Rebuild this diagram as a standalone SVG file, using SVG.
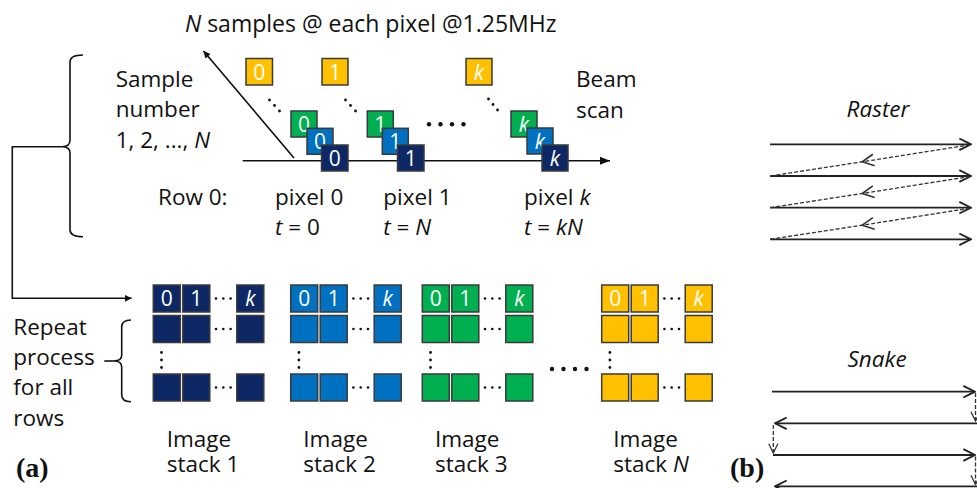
<svg xmlns="http://www.w3.org/2000/svg" width="977" height="488" viewBox="0 0 977 488">
<defs>
<style>
text{font-family:"Open Sans","Liberation Sans",sans-serif;font-size:22.5px;fill:#111}
.it{font-style:italic}
.bx{stroke:#3a3a3a;stroke-width:1.5}
.nv{fill:#0E2866}.bl{fill:#0070C0}.gr{fill:#00B050}.ye{fill:#FFC000}
.bt{fill:#fff;font-size:21px;text-anchor:middle}
.ln{fill:none;stroke:#111;stroke-width:1.6}
.sc{fill:none;stroke:#222;stroke-width:1.8}
.ds{fill:none;stroke:#333;stroke-width:1.3;stroke-dasharray:4 2}
.dot{fill:#111}
.lab{font-family:"Liberation Serif","Times New Roman",serif;font-weight:bold;font-size:28px}
</style>
<marker id="fa" viewBox="0 0 10 10" refX="10" refY="5" markerWidth="7" markerHeight="7" orient="auto" markerUnits="userSpaceOnUse"><path d="M0,0 L10,5 L0,10 z" fill="#111"/></marker>
<marker id="fb" viewBox="0 0 10 10" refX="10" refY="5" markerWidth="10" markerHeight="10" orient="auto" markerUnits="userSpaceOnUse"><path d="M0,1 L10,5 L0,9 z" fill="#111"/></marker>
<marker id="oa" viewBox="0 0 12 12" refX="11" refY="6" markerWidth="14" markerHeight="14" orient="auto" markerUnits="userSpaceOnUse"><path d="M1,1 L11,6 L1,11" fill="none" stroke="#222" stroke-width="1.6"/></marker>
<marker id="om" viewBox="0 0 12 12" refX="6" refY="6" markerWidth="14" markerHeight="14" orient="auto" markerUnits="userSpaceOnUse"><path d="M1,1 L11,6 L1,11" fill="none" stroke="#333" stroke-width="1.4"/></marker>
<marker id="od" viewBox="0 0 12 12" refX="11" refY="6" markerWidth="11" markerHeight="11" orient="auto" markerUnits="userSpaceOnUse"><path d="M1,1 L11,6 L1,11" fill="none" stroke="#333" stroke-width="1.4"/></marker>
</defs>
<rect width="977" height="488" fill="#fff"/>

<g id="connectors">
<path class="ln" d="M294,158 L203.5,51" marker-end="url(#fa)" stroke-width="1.2"/>
<path class="ln" d="M242.7,160.7 H610" marker-end="url(#fb)" stroke-width="2"/>
<path class="ln" d="M83,55 Q70,55 70,62 V140 Q70,146.7 62,146.7 Q70,146.7 70,153 V229.7 Q70,236.7 83,236.7" stroke-width="2"/>
<path class="ln" d="M62,146.7 H12.3 V298.3 H131.7" marker-end="url(#fa)" stroke-width="2"/>
<path class="ln" d="M131,320 Q121.7,320 121.7,327 V355 Q121.7,361 114,361 Q121.7,361 121.7,367 V394.7 Q121.7,401.7 131,401.7" stroke-width="1.8"/>
<path class="ln" d="M114,361 H104.3" stroke-width="1.8"/>
</g>

<g id="title"><text x="185" y="31.5" style="font-size:23px"><tspan class="it">N</tspan> samples @ each pixel @1.25MHz</text></g>

<g id="sample-label">
<text x="115.7" y="86.5">Sample</text>
<text x="115.7" y="116.5">number</text>
<text x="115.7" y="147.5">1, 2, ..., <tspan class="it">N</tspan></text>
</g>

<g id="pixel0">
<rect class="bx ye" x="246" y="58.5" width="26.5" height="26.5"/><text class="bt" x="259.2" y="79.5">0</text>
<circle class="dot" cx="269.5" cy="100" r="1.4"/><circle class="dot" cx="274.5" cy="105.5" r="1.4"/><circle class="dot" cx="279.5" cy="111" r="1.4"/>
<rect class="bx gr" x="291" y="111" width="26" height="26"/><text class="bt" x="304" y="131.5">0</text>
<rect class="bx bl" x="307" y="128.3" width="26" height="26"/><text class="bt" x="320" y="148.8">0</text>
<rect class="bx nv" x="321.5" y="145" width="26.5" height="26"/><text class="bt" x="334.7" y="165.5">0</text>
</g>

<g id="pixel1">
<rect class="bx ye" x="322" y="58.5" width="26" height="26.5"/><text class="bt" x="335" y="79.5">1</text>
<circle class="dot" cx="345.5" cy="100" r="1.4"/><circle class="dot" cx="350.5" cy="105.5" r="1.4"/><circle class="dot" cx="355.5" cy="111" r="1.4"/>
<rect class="bx gr" x="367.3" y="111" width="26" height="26"/><text class="bt" x="380.3" y="131.5">1</text>
<rect class="bx bl" x="382.3" y="128.3" width="26" height="26"/><text class="bt" x="395.3" y="148.8">1</text>
<rect class="bx nv" x="397.5" y="145" width="26.5" height="26"/><text class="bt" x="410.7" y="165.5">1</text>
</g>

<g id="mid-dots">
<circle class="dot" cx="429" cy="124.3" r="2.2"/><circle class="dot" cx="440.5" cy="124.3" r="2.2"/><circle class="dot" cx="452" cy="124.3" r="2.2"/><circle class="dot" cx="463.5" cy="124.3" r="2.2"/>
</g>

<g id="pixelk">
<rect class="bx ye" x="466" y="58.5" width="26" height="26.5"/><text class="bt it" x="479" y="79.5">k</text>
<circle class="dot" cx="488.5" cy="99" r="1.4"/><circle class="dot" cx="493" cy="104.5" r="1.4"/><circle class="dot" cx="497.5" cy="110" r="1.4"/>
<rect class="bx gr" x="511" y="111" width="26" height="26"/><text class="bt it" x="524" y="131.5">k</text>
<rect class="bx bl" x="527" y="128" width="26" height="26"/><text class="bt it" x="540" y="148.5">k</text>
<rect class="bx nv" x="542" y="145" width="26" height="26"/><text class="bt it" x="555" y="165.5">k</text>
</g>

<g id="beam-scan">
<text x="576" y="87">Beam</text>
<text x="576" y="118">scan</text>
</g>

<g id="row-labels">
<text x="158" y="205">Row 0:</text>
<text x="275" y="205">pixel 0</text>
<text x="275" y="235"><tspan class="it">t</tspan> = 0</text>
<text x="383.3" y="205">pixel 1</text>
<text x="383.3" y="235"><tspan class="it">t</tspan> = <tspan class="it">N</tspan></text>
<text x="524" y="205">pixel <tspan class="it">k</tspan></text>
<text x="524" y="235"><tspan class="it">t</tspan> = <tspan class="it">kN</tspan></text>
</g>

<g id="repeat-label">
<text x="13.3" y="335">Repeat</text>
<text x="13.3" y="365">process</text>
<text x="13.3" y="395">for all</text>
<text x="13.3" y="425.5">rows</text>
</g>

<g id="stack1">
<rect class="bx nv" x="153.3" y="285" width="27" height="27"/><text class="bt" x="166.8" y="306.3">0</text>
<rect class="bx nv" x="182.8" y="285" width="27" height="27"/><text class="bt" x="196.3" y="306.3">1</text>
<rect class="bx nv" x="236.8" y="285" width="27" height="27"/><text class="bt it" x="250.3" y="306.3">k</text>
<rect class="bx nv" x="153.3" y="315.5" width="27" height="27"/><rect class="bx nv" x="182.8" y="315.5" width="27" height="27"/><rect class="bx nv" x="236.8" y="315.5" width="27" height="27"/>
<rect class="bx nv" x="153.3" y="374" width="27" height="27"/><rect class="bx nv" x="182.8" y="374" width="27" height="27"/><rect class="bx nv" x="236.8" y="374" width="27" height="27"/>
<g class="dot"><circle cx="216" cy="298.5" r="1.3"/><circle cx="223.3" cy="298.5" r="1.3"/><circle cx="230.6" cy="298.5" r="1.3"/>
<circle cx="216" cy="329" r="1.3"/><circle cx="223.3" cy="329" r="1.3"/><circle cx="230.6" cy="329" r="1.3"/>
<circle cx="216" cy="387.5" r="1.3"/><circle cx="223.3" cy="387.5" r="1.3"/><circle cx="230.6" cy="387.5" r="1.3"/>
<circle cx="161.5" cy="352.5" r="1.4"/><circle cx="161.5" cy="360" r="1.4"/><circle cx="161.5" cy="367.5" r="1.4"/></g>
<text x="166.7" y="446.7">Image</text><text x="166.7" y="472">stack 1</text>
</g>

<g id="stack2">
<rect class="bx bl" x="290.7" y="285" width="27" height="27"/><text class="bt" x="304.2" y="306.3">0</text>
<rect class="bx bl" x="320.2" y="285" width="27" height="27"/><text class="bt" x="333.7" y="306.3">1</text>
<rect class="bx bl" x="374.2" y="285" width="27" height="27"/><text class="bt it" x="387.7" y="306.3">k</text>
<rect class="bx bl" x="290.7" y="315.5" width="27" height="27"/><rect class="bx bl" x="320.2" y="315.5" width="27" height="27"/><rect class="bx bl" x="374.2" y="315.5" width="27" height="27"/>
<rect class="bx bl" x="290.7" y="374" width="27" height="27"/><rect class="bx bl" x="320.2" y="374" width="27" height="27"/><rect class="bx bl" x="374.2" y="374" width="27" height="27"/>
<g class="dot"><circle cx="353.4" cy="298.5" r="1.3"/><circle cx="360.7" cy="298.5" r="1.3"/><circle cx="368" cy="298.5" r="1.3"/>
<circle cx="353.4" cy="329" r="1.3"/><circle cx="360.7" cy="329" r="1.3"/><circle cx="368" cy="329" r="1.3"/>
<circle cx="353.4" cy="387.5" r="1.3"/><circle cx="360.7" cy="387.5" r="1.3"/><circle cx="368" cy="387.5" r="1.3"/>
<circle cx="298.9" cy="352.5" r="1.4"/><circle cx="298.9" cy="360" r="1.4"/><circle cx="298.9" cy="367.5" r="1.4"/></g>
<text x="303.3" y="446.7">Image</text><text x="303.3" y="472">stack 2</text>
</g>

<g id="stack3">
<rect class="bx gr" x="422.3" y="285" width="27" height="27"/><text class="bt" x="435.8" y="306.3">0</text>
<rect class="bx gr" x="451.8" y="285" width="27" height="27"/><text class="bt" x="465.3" y="306.3">1</text>
<rect class="bx gr" x="505.8" y="285" width="27" height="27"/><text class="bt it" x="519.3" y="306.3">k</text>
<rect class="bx gr" x="422.3" y="315.5" width="27" height="27"/><rect class="bx gr" x="451.8" y="315.5" width="27" height="27"/><rect class="bx gr" x="505.8" y="315.5" width="27" height="27"/>
<rect class="bx gr" x="422.3" y="374" width="27" height="27"/><rect class="bx gr" x="451.8" y="374" width="27" height="27"/><rect class="bx gr" x="505.8" y="374" width="27" height="27"/>
<g class="dot"><circle cx="485" cy="298.5" r="1.3"/><circle cx="492.3" cy="298.5" r="1.3"/><circle cx="499.6" cy="298.5" r="1.3"/>
<circle cx="485" cy="329" r="1.3"/><circle cx="492.3" cy="329" r="1.3"/><circle cx="499.6" cy="329" r="1.3"/>
<circle cx="485" cy="387.5" r="1.3"/><circle cx="492.3" cy="387.5" r="1.3"/><circle cx="499.6" cy="387.5" r="1.3"/>
<circle cx="430.5" cy="352.5" r="1.4"/><circle cx="430.5" cy="360" r="1.4"/><circle cx="430.5" cy="367.5" r="1.4"/></g>
<text x="435" y="446.7">Image</text><text x="435" y="472">stack 3</text>
</g>

<g id="stack-dots">
<circle class="dot" cx="552" cy="369" r="2.2"/><circle class="dot" cx="563.5" cy="369" r="2.2"/><circle class="dot" cx="575" cy="369" r="2.2"/><circle class="dot" cx="586.5" cy="369" r="2.2"/>
</g>

<g id="stackN">
<rect class="bx ye" x="601.7" y="285" width="27" height="27"/><text class="bt" x="615.2" y="306.3">0</text>
<rect class="bx ye" x="631.2" y="285" width="27" height="27"/><text class="bt" x="644.7" y="306.3">1</text>
<rect class="bx ye" x="685.2" y="285" width="27" height="27"/><text class="bt it" x="698.7" y="306.3">k</text>
<rect class="bx ye" x="601.7" y="315.5" width="27" height="27"/><rect class="bx ye" x="631.2" y="315.5" width="27" height="27"/><rect class="bx ye" x="685.2" y="315.5" width="27" height="27"/>
<rect class="bx ye" x="601.7" y="374" width="27" height="27"/><rect class="bx ye" x="631.2" y="374" width="27" height="27"/><rect class="bx ye" x="685.2" y="374" width="27" height="27"/>
<g class="dot"><circle cx="664.4" cy="298.5" r="1.3"/><circle cx="671.7" cy="298.5" r="1.3"/><circle cx="679" cy="298.5" r="1.3"/>
<circle cx="664.4" cy="329" r="1.3"/><circle cx="671.7" cy="329" r="1.3"/><circle cx="679" cy="329" r="1.3"/>
<circle cx="664.4" cy="387.5" r="1.3"/><circle cx="671.7" cy="387.5" r="1.3"/><circle cx="679" cy="387.5" r="1.3"/>
<circle cx="609.9" cy="352.5" r="1.4"/><circle cx="609.9" cy="360" r="1.4"/><circle cx="609.9" cy="367.5" r="1.4"/></g>
<text x="613.3" y="446.7">Image</text><text x="613.3" y="472">stack <tspan class="it">N</tspan></text>
</g>

<g id="raster">
<text class="it" x="878" y="116.7" text-anchor="middle">Raster</text>
<path class="sc" d="M770,144.3 H971" marker-end="url(#oa)"/>
<path class="sc" d="M770,176 H971" marker-end="url(#oa)"/>
<path class="sc" d="M770,207.7 H971" marker-end="url(#oa)"/>
<path class="sc" d="M770,239.3 H971" marker-end="url(#oa)"/>
<path class="ds" d="M970,144.8 L868,160.9 L770,176" marker-mid="url(#om)"/>
<path class="ds" d="M970,176.5 L868,192.6 L770,207.7" marker-mid="url(#om)"/>
<path class="ds" d="M970,208.2 L868,224.3 L770,239.3" marker-mid="url(#om)"/>
</g>

<g id="snake">
<text class="it" x="877" y="366.7" text-anchor="middle">Snake</text>
<path class="sc" d="M772,391.7 H975" marker-end="url(#oa)"/>
<path class="ds" d="M975.5,393 V421" marker-end="url(#od)"/>
<path class="sc" d="M977,423.3 H775" marker-end="url(#oa)"/>
<path class="ds" d="M773.3,425 V453" marker-end="url(#od)"/>
<path class="sc" d="M773,455 H975" marker-end="url(#oa)"/>
<path class="ds" d="M975.5,456.5 V484.5" marker-end="url(#od)"/>
<path class="sc" d="M977,486.3 H775" marker-end="url(#oa)"/>
</g>

<g id="panel-labels">
<text class="lab" x="16" y="477">(a)</text>
<text class="lab" x="730" y="477">(b)</text>
</g>
</svg>
